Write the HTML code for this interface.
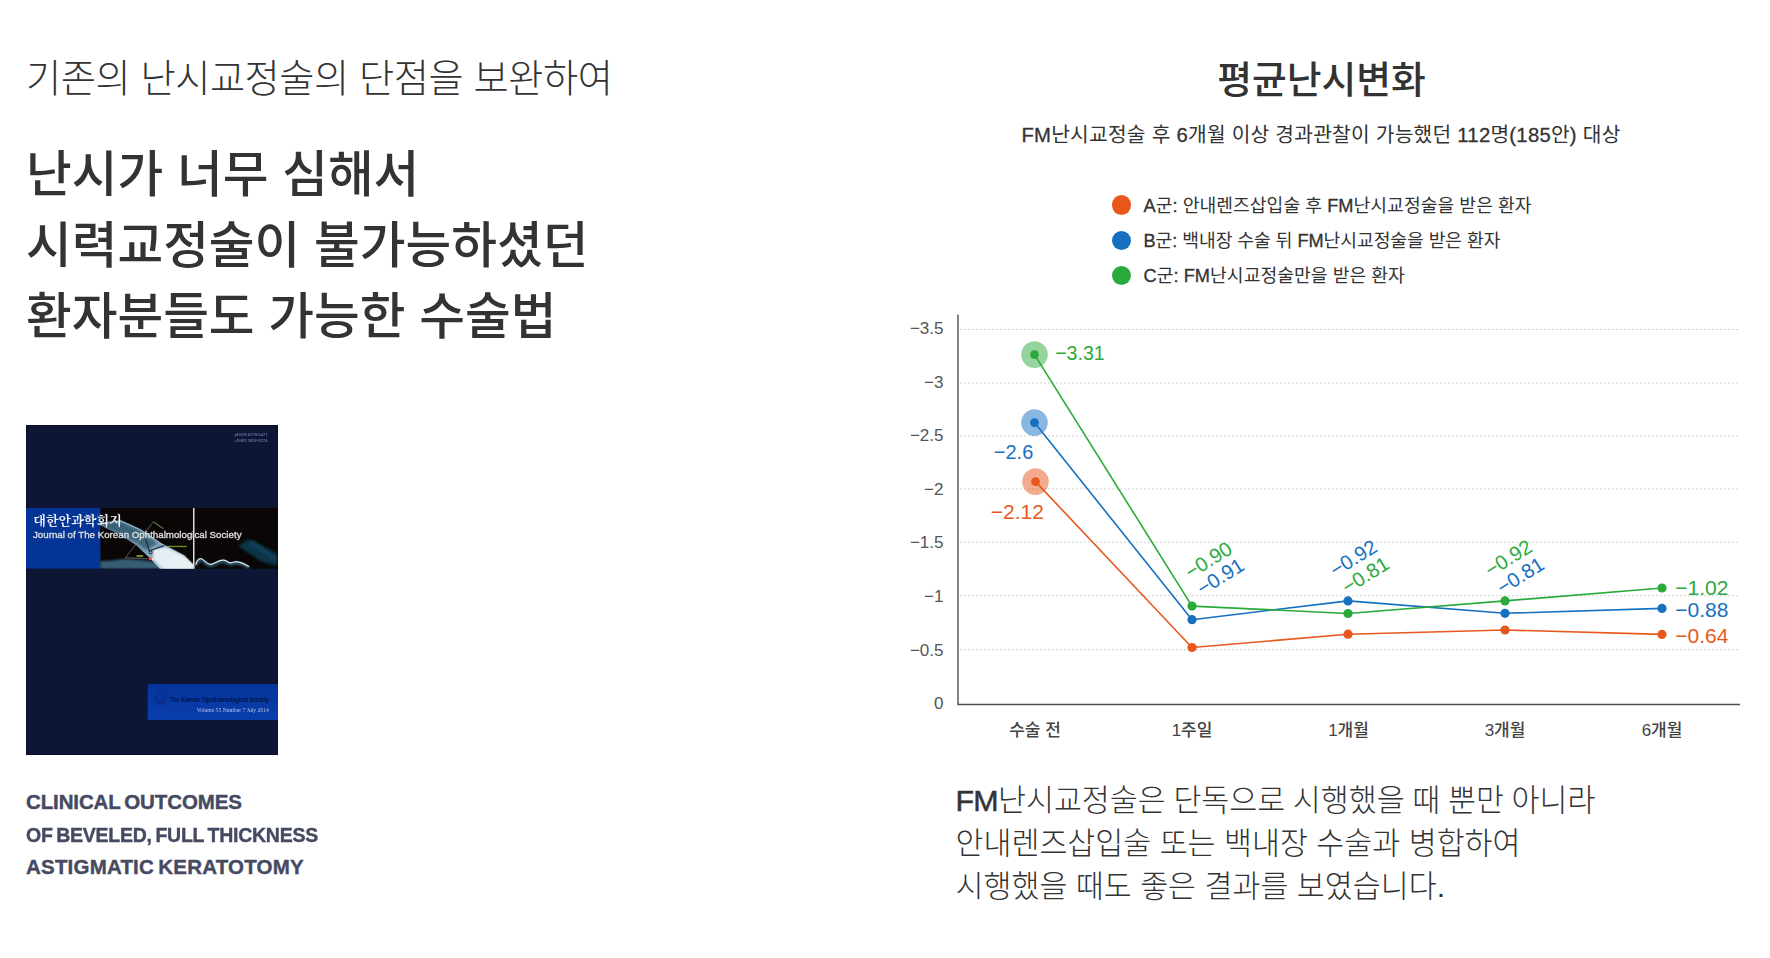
<!DOCTYPE html>
<html lang="ko">
<head>
<meta charset="utf-8">
<title>FM난시교정술</title>
<style>
*{margin:0;padding:0;box-sizing:border-box;}
html,body{width:1770px;height:958px;background:#fff;overflow:hidden;}
body{position:relative;font-family:"Liberation Sans","Noto Sans CJK KR",sans-serif;color:#333;}
.abs{position:absolute;white-space:nowrap;}
.kr{font-family:"Liberation Sans","Noto Sans CJK KR",sans-serif;}
#sub{left:26px;top:51px;font-size:38.26px;font-weight:300;line-height:56px;color:#333;letter-spacing:-0.45px;}
#head{left:26px;top:140px;font-size:49.7px;font-weight:500;line-height:70.8px;color:#333;}
#cap{left:26px;top:785.8px;font-size:20.5px;font-weight:700;line-height:32.8px;color:#454a62;-webkit-text-stroke:0.4px #454a62;word-spacing:-1.6px;}
#ttl{left:1121.5px;width:400px;text-align:center;top:52px;font-size:37.8px;font-weight:500;line-height:56px;color:#333;}
#desc{left:921px;width:800px;text-align:center;top:119px;font-size:20.3px;letter-spacing:0.25px;font-weight:400;line-height:32px;color:#333;}
.lg{left:1143.5px;font-size:18.2px;line-height:30px;color:#333;letter-spacing:0.05px;}
.dot{position:absolute;width:19.4px;height:19.4px;border-radius:50%;left:1111.9px;}
#para{left:955.5px;top:779.4px;font-size:30.4px;font-weight:300;line-height:43px;color:#333;}
.la{-webkit-text-stroke:0.3px #333;}
.fm{letter-spacing:-0.7px;-webkit-text-stroke:0.5px #333;}
#book{position:absolute;left:26px;top:425px;width:252px;height:330px;background:#0d1635;overflow:hidden;}
</style>
</head>
<body>
<div id="sub" class="abs">기존의 난시교정술의 단점을 보완하여</div>
<div id="head" class="abs">난시가 너무 심해서<br>시력교정술이 불가능하셨던<br>환자분들도 가능한 수술법</div>

<div id="book">
<svg width="252" height="330" viewBox="0 0 252 330">
<defs>
<filter id="b1" x="-20%" y="-20%" width="140%" height="140%"><feGaussianBlur stdDeviation="0.9"/></filter>
<filter id="b2" x="-20%" y="-20%" width="140%" height="140%"><feGaussianBlur stdDeviation="0.45"/></filter>
<filter id="b3" x="-30%" y="-30%" width="160%" height="160%"><feGaussianBlur stdDeviation="1.6"/></filter>
<linearGradient id="cg" x1="0" y1="0" x2="1" y2="1"><stop offset="0" stop-color="#4d7590"/><stop offset="0.55" stop-color="#7fa6bd"/><stop offset="1" stop-color="#dfeaf2"/></linearGradient>
<linearGradient id="bx" x1="0" y1="0" x2="0" y2="1"><stop offset="0" stop-color="#05349a"/><stop offset="1" stop-color="#0a3eac"/></linearGradient>
<clipPath id="band"><rect x="74" y="83" width="178" height="60.7"/></clipPath>
</defs>
<rect width="252" height="330" fill="#0d1635"/>
<rect x="0" y="0" width="252" height="1" fill="#060b27"/><rect x="0" y="0" width="1" height="330" fill="#060b27"/><rect x="0" y="329" width="252" height="1" fill="#060b27"/><rect x="251" y="0" width="1" height="330" fill="#080e2c"/>
<rect x="0" y="83" width="252" height="60.7" fill="#0a0605"/>
<rect x="0" y="83" width="74.4" height="60.7" fill="#043596"/>
<g clip-path="url(#band)">
<polygon points="74.1,136.1 85.8,135.4 99.5,133.7 120.2,135.4 134.0,138.2 167.0,141.6 167.0,144.0 74.1,144.0" fill="#3a6880" filter="url(#b1)" opacity="0.9"/>
<polygon points="74.1,97.5 94.7,95.1 114.7,104.1 134.0,117.2 140.9,121.3 158.1,130.2 167.4,139.5 167.4,144.0 134.0,144.0 124.3,133.7 110.6,120.6 92.7,108.9 74.1,100.6" fill="url(#cg)" filter="url(#b2)" opacity="0.95"/>
<polygon points="76.1,99.0 94.0,97.0 113.3,105.8 131.2,118.2 120.2,125.1 109.2,116.8 92.7,107.2 76.1,100.3" fill="#2f586e" filter="url(#b1)" opacity="0.75"/>
<polygon points="127.1,123.7 140.9,122.3 158.1,131.3 167.4,140.2 167.4,144.0 137.4,144.0 127.1,134.0" fill="#eef4f8" filter="url(#b1)" opacity="0.9"/>
<polyline points="74.1,99.0 94.7,96.0 114.7,105.0 134.0,118.1 140.9,122.2" fill="none" stroke="#a9c4d0" stroke-width="0.8" filter="url(#b2)"/>
<polyline points="137.4,103.7 127.4,96.8 99.5,132.7 121.6,133.7" fill="none" stroke="#84958a" stroke-width="0.6" filter="url(#b2)"/>
<polyline points="127.4,96.8 137.4,103.7" fill="none" stroke="#76a332" stroke-width="0.7" filter="url(#b2)"/>
<polyline points="119.5,113.4 123.3,125.8 138.1,120.6" fill="none" stroke="#1d3644" stroke-width="1.3" filter="url(#b2)"/>
<circle cx="124.7" cy="127.3" r="1.5" fill="none" stroke="#15242e" stroke-width="0.9" filter="url(#b2)"/>
<rect x="140.9" y="120.8" width="20" height="1.3" fill="#7fa62c" filter="url(#b2)" opacity="0.85"/>
<rect x="110.6" y="130.2" width="6.5" height="1.6" fill="#93ad2e" filter="url(#b2)"/>
<circle cx="124.0" cy="133.7" r="1.5" fill="#f04a4e" filter="url(#b2)"/>
<circle cx="127.1" cy="134.2" r="0.9" fill="#ffffff" filter="url(#b2)"/>
<path d="M169.7,141 C171.5,135.5 174,134.5 176,135.5 C179,137 181,141.5 185,140.8 C189,140.1 193,136 198,136.7 C201,137.1 202.5,139.7 205,139.3 C207.5,138.9 209,137.8 211.5,138.3 C215,139 219,140 223,143.3" fill="none" stroke="#2f6480" stroke-width="2.4" filter="url(#b1)"/>
<path d="M169.7,139.5 C171.5,134 174,133 176,134 C179,135.5 181,140 185,139.3 C189,138.6 193,134.5 198,135.2 C201,135.6 202.5,138.2 205,137.8 C207.5,137.4 209,136.3 211.5,136.8 C215,137.5 219,138.5 223,141.8" fill="none" stroke="#e2ecf1" stroke-width="1.2" filter="url(#b2)"/>
<polygon points="212,121 222,114 251,128 251,141 236,137" fill="#103a50" filter="url(#b3)" opacity="0.9"/>
<polygon points="222,118 228,115 251,133 251,138" fill="#18506c" filter="url(#b1)" opacity="0.45"/>
</g>
<rect x="167" y="83" width="1.5" height="60.7" fill="#dcdcdc"/>
<g font-family="'Liberation Serif','Noto Serif CJK SC',serif" filter="url(#b2)">
<text x="7.3" y="99.6" font-size="12.9" font-weight="700" fill="#f2f2f2" textLength="88.5" lengthAdjust="spacingAndGlyphs">대한안과학회지</text>
</g>
<g font-family="'Liberation Sans',sans-serif" filter="url(#b2)">
<text x="7" y="112.6" font-size="9.8" font-weight="400" stroke="#dcdcdc" stroke-width="0.35" fill="#dcdcdc" textLength="208.5" lengthAdjust="spacingAndGlyphs">Journal of The Korean Ophthalmological Society</text>
</g>
<g font-family="'Liberation Serif',serif" filter="url(#b2)" fill="#8e98c6">
<text x="208.6" y="11.4" font-size="4.6" textLength="33" lengthAdjust="spacingAndGlyphs">pISSN 0378-6471</text>
<text x="208.6" y="16.8" font-size="4.6" textLength="33" lengthAdjust="spacingAndGlyphs">eISSN 2092-9374</text>
</g>
<rect x="121.2" y="259" width="130.8" height="36" fill="url(#bx)"/>
<rect x="120.6" y="258.5" width="1" height="37" fill="#0a1744"/>
<g filter="url(#b2)">
<circle cx="134.6" cy="273.7" r="5.4" fill="none" stroke="#122264" stroke-width="0.9"/>
<path d="M131.3 272.3 Q134.6 277.5 137.9 272.3 M132 275.6 Q134.6 278.6 137.2 275.6" fill="none" stroke="#122264" stroke-width="0.9"/>
<text x="143.4" y="276.6" font-family="'Liberation Sans',sans-serif" font-size="6.5" fill="#0a123a" stroke="#0a123a" stroke-width="0.15" textLength="99.5" lengthAdjust="spacingAndGlyphs">The Korean Ophthalmological Society</text>
<text x="170.8" y="287.4" font-family="'Liberation Serif',serif" font-size="6" fill="#b4c1ee" textLength="72" lengthAdjust="spacingAndGlyphs">Volume 55 Number 7 July 2014</text>
</g>
</svg>
</div>

<div id="cap" class="abs"><span style="letter-spacing:-0.12px">CLINICAL OUTCOMES</span><br><span style="display:inline-block;letter-spacing:-0.26px;transform:scaleX(0.951);transform-origin:0 50%">OF BEVELED, FULL THICKNESS</span><br><span style="letter-spacing:0.2px">ASTIGMATIC KERATOTOMY</span></div>

<div id="ttl" class="abs">평균난시변화</div>
<div id="desc" class="abs"><span class="la">FM</span>난시교정술 후 <span class="la">6</span>개월 이상 경과관찰이 가능했던 <span class="la">112</span>명<span class="la">(185</span>안<span class="la">)</span> 대상</div>

<div class="dot" style="top:195.2px;background:#e8581c"></div>
<div class="dot" style="top:230.6px;background:#1670c0"></div>
<div class="dot" style="top:265.7px;background:#2baa3c"></div>
<div class="abs lg" style="top:191px"><span class="la">A</span>군<span class="la">:</span> 안내렌즈삽입술 후 <span class="la">FM</span>난시교정술을 받은 환자</div>
<div class="abs lg" style="top:226px;letter-spacing:-0.05px"><span class="la">B</span>군<span class="la">:</span> 백내장 수술 뒤 <span class="la">FM</span>난시교정술을 받은 환자</div>
<div class="abs lg" style="top:261px"><span class="la">C</span>군<span class="la">:</span> <span class="la">FM</span>난시교정술만을 받은 환자</div>

<svg class="abs" id="chart" style="left:885px;top:300px" width="885" height="460" viewBox="885 300 885 460">
<g font-family="'Liberation Sans','Noto Sans CJK KR',sans-serif">
<line x1="960" y1="329.5" x2="1740" y2="329.5" stroke="#d2d2d2" stroke-width="1.1" stroke-dasharray="2 2"/>
<line x1="960" y1="383" x2="1740" y2="383" stroke="#d2d2d2" stroke-width="1.1" stroke-dasharray="2 2"/>
<line x1="960" y1="436" x2="1740" y2="436" stroke="#d2d2d2" stroke-width="1.1" stroke-dasharray="2 2"/>
<line x1="960" y1="489" x2="1740" y2="489" stroke="#d2d2d2" stroke-width="1.1" stroke-dasharray="2 2"/>
<line x1="960" y1="542.3" x2="1740" y2="542.3" stroke="#d2d2d2" stroke-width="1.1" stroke-dasharray="2 2"/>
<line x1="960" y1="595.8" x2="1740" y2="595.8" stroke="#d2d2d2" stroke-width="1.1" stroke-dasharray="2 2"/>
<line x1="960" y1="649.6" x2="1740" y2="649.6" stroke="#d2d2d2" stroke-width="1.1" stroke-dasharray="2 2"/>
<path d="M958 314.5V704.5H1740" fill="none" stroke="#4d4d4d" stroke-width="1.4"/>
<text x="943.5" y="333.8" text-anchor="end" font-size="17" fill="#555">−3.5</text>
<text x="943.5" y="387.7" text-anchor="end" font-size="17" fill="#555">−3</text>
<text x="943.5" y="441.3" text-anchor="end" font-size="17" fill="#555">−2.5</text>
<text x="943.5" y="494.5" text-anchor="end" font-size="17" fill="#555">−2</text>
<text x="943.5" y="548.2" text-anchor="end" font-size="17" fill="#555">−1.5</text>
<text x="943.5" y="601.7" text-anchor="end" font-size="17" fill="#555">−1</text>
<text x="943.5" y="655.5" text-anchor="end" font-size="17" fill="#555">−0.5</text>
<text x="943.5" y="709.2" text-anchor="end" font-size="17" fill="#555">0</text>
<text x="1035" y="736" text-anchor="middle" font-size="17" font-weight="500" fill="#444">수술 전</text>
<text x="1192" y="736" text-anchor="middle" font-size="17" font-weight="500" fill="#444">1주일</text>
<text x="1348.5" y="736" text-anchor="middle" font-size="17" font-weight="500" fill="#444">1개월</text>
<text x="1505" y="736" text-anchor="middle" font-size="17" font-weight="500" fill="#444">3개월</text>
<text x="1662" y="736" text-anchor="middle" font-size="17" font-weight="500" fill="#444">6개월</text>
<polyline points="1035.5,481.6 1192,647.5 1348,634.2 1505,630 1662,634.4" fill="none" stroke="#e8581c" stroke-width="1.6" stroke-linejoin="round"/>
<circle cx="1035.5" cy="481.6" r="13.3" fill="#e8581c" opacity="0.5"/>
<circle cx="1035.5" cy="481.6" r="4.4" fill="#e8581c"/>
<circle cx="1192" cy="647.5" r="4.6" fill="#e8581c"/>
<circle cx="1348" cy="634.2" r="4.6" fill="#e8581c"/>
<circle cx="1505" cy="630" r="4.6" fill="#e8581c"/>
<circle cx="1662" cy="634.4" r="4.6" fill="#e8581c"/>
<polyline points="1034.5,422.6 1192,619.7 1348,600.9 1505,613.3 1662,608.4" fill="none" stroke="#1670c0" stroke-width="1.6" stroke-linejoin="round"/>
<circle cx="1034.5" cy="422.6" r="13.3" fill="#1670c0" opacity="0.5"/>
<circle cx="1034.5" cy="422.6" r="4.4" fill="#1670c0"/>
<circle cx="1192" cy="619.7" r="4.6" fill="#1670c0"/>
<circle cx="1348" cy="600.9" r="4.6" fill="#1670c0"/>
<circle cx="1505" cy="613.3" r="4.6" fill="#1670c0"/>
<circle cx="1662" cy="608.4" r="4.6" fill="#1670c0"/>
<polyline points="1034.5,354.6 1192,606.1 1348,613.5 1505,600.9 1662,588" fill="none" stroke="#2baa3c" stroke-width="1.6" stroke-linejoin="round"/>
<circle cx="1034.5" cy="354.6" r="13.3" fill="#2baa3c" opacity="0.5"/>
<circle cx="1034.5" cy="354.6" r="4.4" fill="#2baa3c"/>
<circle cx="1192" cy="606.1" r="4.6" fill="#2baa3c"/>
<circle cx="1348" cy="613.5" r="4.6" fill="#2baa3c"/>
<circle cx="1505" cy="600.9" r="4.6" fill="#2baa3c"/>
<circle cx="1662" cy="588" r="4.6" fill="#2baa3c"/>
<text x="1055.2" y="360.3" font-size="21" textLength="49.5" lengthAdjust="spacingAndGlyphs" fill="#2baa3c">−3.31</text>
<text x="993.8" y="459" font-size="21" textLength="39.5" lengthAdjust="spacingAndGlyphs" fill="#1670c0">−2.6</text>
<text x="990.8" y="519" font-size="21" fill="#e8581c">−2.12</text>
<text x="1675.3" y="594.9" font-size="21" fill="#2baa3c">−1.02</text>
<text x="1675.3" y="617.3" font-size="21" fill="#1670c0">−0.88</text>
<text x="1675.3" y="642.7" font-size="21" fill="#e8581c">−0.64</text>
<text x="1190.5" y="579.5" font-size="20.2" fill="#2baa3c" transform="rotate(-32 1190.5 579.5)">−0.90</text>
<text x="1202.5" y="596.0" font-size="20.2" fill="#1670c0" transform="rotate(-32 1202.5 596.0)">−0.91</text>
<text x="1335.5" y="577.5" font-size="20.2" fill="#1670c0" transform="rotate(-32 1335.5 577.5)">−0.92</text>
<text x="1347.5" y="594.5" font-size="20.2" fill="#2baa3c" transform="rotate(-32 1347.5 594.5)">−0.81</text>
<text x="1490.5" y="577.5" font-size="20.2" fill="#2baa3c" transform="rotate(-32 1490.5 577.5)">−0.92</text>
<text x="1502.5" y="595.0" font-size="20.2" fill="#1670c0" transform="rotate(-32 1502.5 595.0)">−0.81</text>
</g>
</svg>

<div id="para" class="abs"><span style="word-spacing:-0.8px"><span class="fm">FM</span>난시교정술은 단독으로 시행했을 때 뿐만 아니라</span><br>안내렌즈삽입술 또는 백내장 수술과 병합하여<br>시행했을 때도 좋은 결과를 보였습니다.</div>
</body>
</html>
